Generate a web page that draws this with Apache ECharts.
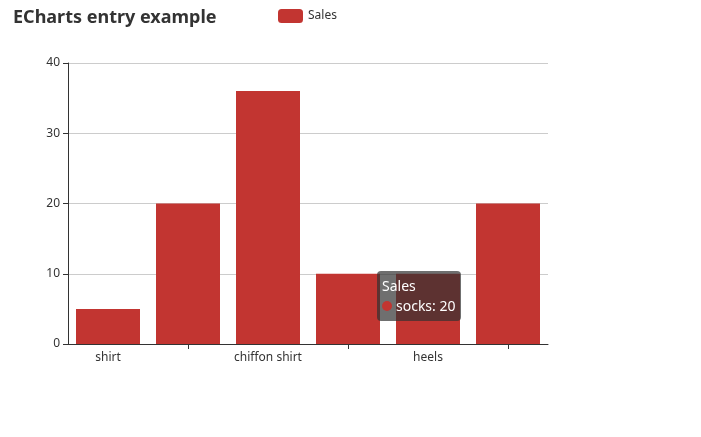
<!DOCTYPE html>
<html><head><meta charset="utf-8">
<script src="https://cdn.jsdelivr.net/npm/echarts@6/dist/echarts.min.js"></script>
<style>html,body{margin:0;padding:0;background:#fff}#c{width:701px;height:437px;position:relative}</style>
</head><body><div id="c"></div>
<script>
var categories = ['shirt', 'cardigan', 'chiffon shirt', 'pants', 'heels', 'socks'];
var salesValues = [5, 20, 36, 10, 10, 20];
var yTicks = [0, 10, 20, 30, 40];
var seriesName = 'Sales';
var barColor = '#c23531';
var font = 'Microsoft YaHei, "Noto Sans", sans-serif';

var chart = echarts.init(document.getElementById('c'), null, {renderer: 'canvas'});
chart.setOption({
  animation: false,
  textStyle: {fontFamily: font},
  title: {
    text: 'ECharts entry example', left: 8, top: 4,
    textStyle: {fontSize: 18, fontWeight: 'bold', color: '#333', fontFamily: font}
  },
  legend: {
    data: [seriesName], left: 273, top: 4, itemWidth: 25, itemHeight: 14, itemGap: 10,
    textStyle: {fontSize: 12, color: '#333', fontFamily: font}
  },
  tooltip: {
    trigger: 'item', triggerOn: 'none', alwaysShowContent: true,
    position: [377, 271],
    backgroundColor: 'rgba(50,50,50,0.7)', borderWidth: 0, padding: [5, 5],
    extraCssText: 'box-shadow:none;border-radius:4px;line-height:20px;',
    transitionDuration: 0,
    textStyle: {color: '#fff', fontSize: 14, fontFamily: font},
    formatter: function (p) {
      return p.seriesName + '<br/><span style="display:inline-block;margin-right:4px;border-radius:10px;width:10px;height:10px;background-color:' + barColor + ';"></span>' + p.name + ': ' + p.value;
    }
  },
  grid: {left: 68, right: 153, top: 63, bottom: 93},
  xAxis: [{
    type: 'category', data: categories,
    axisLine: {lineStyle: {color: '#333'}},
    axisTick: {show: false},
    axisLabel: {interval: function (i) { return i % 2 === 0; }, color: '#333', fontSize: 12, margin: 8, fontFamily: font}
  }, {
    type: 'category', data: categories, inverse: true, position: 'bottom',
    axisLine: {show: false},
    axisLabel: {show: false},
    splitLine: {show: false},
    axisTick: {show: true, alignWithLabel: true, interval: 1, length: 5, lineStyle: {color: '#333'}}
  }],
  yAxis: {
    type: 'value', min: yTicks[0], max: yTicks[yTicks.length - 1], interval: 10,
    axisLine: {show: true, lineStyle: {color: '#333'}},
    axisTick: {show: true, length: 5, lineStyle: {color: '#333'}},
    axisLabel: {color: '#333', fontSize: 12, margin: 8, fontFamily: font},
    splitLine: {lineStyle: {color: '#ccc'}}
  },
  series: [{
    name: seriesName, type: 'bar', data: salesValues, xAxisIndex: 0,
    barCategoryGap: '20%', itemStyle: {color: barColor}
  }]
});
chart.dispatchAction({type: 'showTip', seriesIndex: 0, dataIndex: 5});
</script></body></html>
